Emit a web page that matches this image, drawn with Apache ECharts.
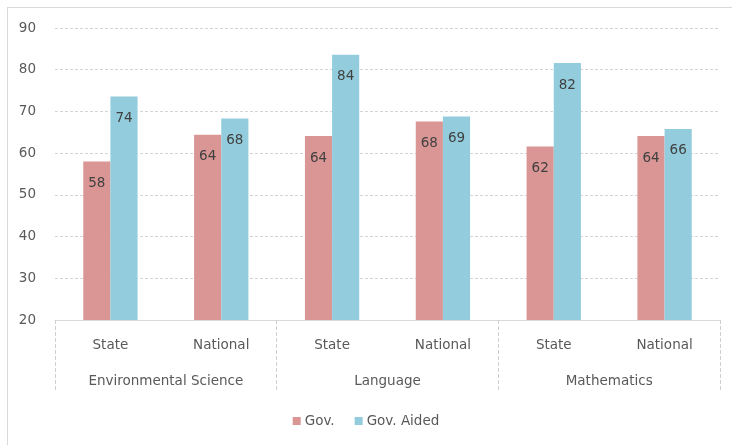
<!DOCTYPE html>
<html>
<head>
<meta charset="utf-8">
<script src="https://cdn.jsdelivr.net/npm/echarts@6/dist/echarts.min.js"></script>
<style>
  html, body { margin: 0; padding: 0; background: #fff; }
  #frame { position: absolute; left: 7px; top: 7px; width: 740px; height: 450px;
           border-top: 1px solid #d9d9d9; border-left: 1px solid #d9d9d9; }
  #chart { position: absolute; left: 0; top: 0; width: 732px; height: 445px; }
</style>
</head>
<body>
<div id="frame"></div>
<div id="chart"></div>
<script>
// ---- data ----
const subCategories = ['State', 'National', 'State', 'National', 'State', 'National'];
const groupCategories = ['Environmental Science', 'Language', 'Mathematics'];
const seriesNames = ['Gov.', 'Gov. Aided'];
const govValues = [58.0, 64.4, 64.1, 67.6, 61.6, 64.1];
const govAidedValues = [73.6, 68.3, 83.6, 68.8, 81.6, 65.8];
const yTicks = { min: 20, max: 90, interval: 10 };

const colors = ['#D99694', '#93CDDD'];
const textColor = '#595959';
const font = 'DejaVu Sans';
const fs = 13.5;

const chart = echarts.init(document.getElementById('chart'), null, { renderer: 'canvas' });

const labelCfg = {
  show: true,
  position: 'insideTop',
  distance: 15,
  color: '#404040',
  fontSize: fs,
  fontFamily: font,
  formatter: p => Math.round(p.value)
};

chart.setOption({
  animation: false,
  backgroundColor: 'transparent',
  textStyle: { fontFamily: font },
  grid: { left: 55, right: 12, top: 28, bottom: 125, containLabel: false },
  legend: {
    data: seriesNames,
    bottom: 12,
    left: 'center',
    itemWidth: 8,
    itemHeight: 8,
    itemGap: 20,
    icon: 'rect',
    textStyle: { color: textColor, fontSize: fs, fontFamily: font, padding: [0, 0, 0, -1] }
  },
  xAxis: [
    {
      type: 'category',
      data: subCategories,
      position: 'bottom',
      axisLine: { show: true, lineStyle: { color: '#d9d9d9', width: 1 } },
      axisTick: { show: false },
      axisLabel: { color: textColor, fontSize: fs, fontFamily: font, margin: 18, interval: 0 }
    },
    {
      type: 'category',
      data: groupCategories,
      position: 'bottom',
      axisLine: { show: false },
      axisTick: { show: true, length: 72, interval: 0, lineStyle: { color: '#cfcfcf', type: 'dashed', width: 1 } },
      axisLabel: { color: textColor, fontSize: fs, fontFamily: font, margin: 54, interval: 0 },
      splitLine: { show: false }
    }
  ],
  yAxis: {
    type: 'value',
    min: yTicks.min,
    max: yTicks.max,
    interval: yTicks.interval,
    axisLine: { show: false },
    axisTick: { show: false },
    axisLabel: { color: textColor, fontSize: fs, fontFamily: font, margin: 19 },
    splitLine: { show: true, lineStyle: { color: '#d4d4d4', type: [3, 2], width: 1 } }
  },
  series: [
    {
      name: seriesNames[0],
      type: 'bar',
      xAxisIndex: 0,
      data: govValues,
      itemStyle: { color: colors[0] },
      barGap: '0%',
      barCategoryGap: '51%',
      label: labelCfg
    },
    {
      name: seriesNames[1],
      type: 'bar',
      xAxisIndex: 0,
      data: govAidedValues,
      itemStyle: { color: colors[1] },
      barGap: '0%',
      barCategoryGap: '51%',
      label: labelCfg
    }
  ]
});
</script>
</body>
</html>
